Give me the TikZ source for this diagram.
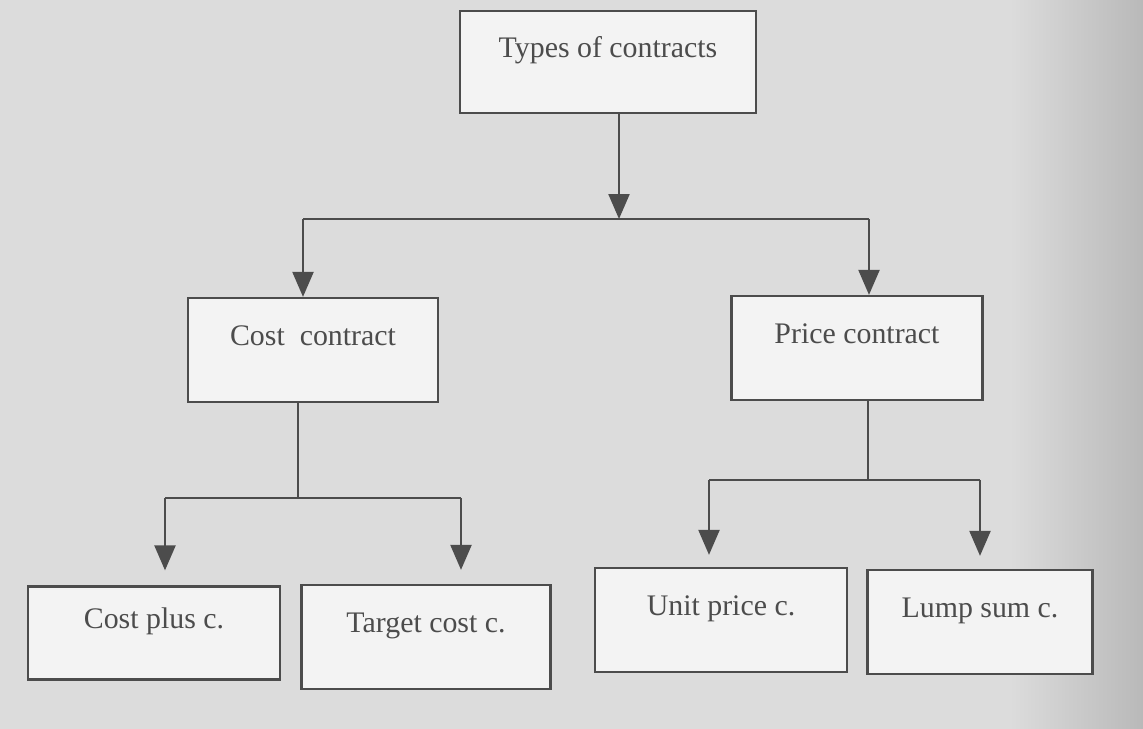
\documentclass[tikz,border=0pt]{standalone}
\usepackage{fontspec}
\setmainfont{Liberation Serif}
\usepackage{xcolor}
\usepackage{tikz}
\usetikzlibrary{arrows.meta, positioning}

\definecolor{scanbg}{HTML}{DCDCDC}
\definecolor{boxbg}{HTML}{F3F3F3}
\definecolor{ink}{HTML}{4C4C4C}

\begin{document}
\begin{tikzpicture}[x=0.02cm, y=-0.02cm, >={Triangle[width=0.42cm, length=0.5cm]},
        box/.style={draw=ink, line width=1.3pt, fill=boxbg, text=ink, minimum height=2.08cm,
            text height=12pt, text depth=17pt, font=\fontsize{17}{20}\selectfont},
        link/.style={draw=ink, line width=1.3pt}]
        % scanned page
        \useasboundingbox (0,0) rectangle (1143,729);
        \fill[scanbg] (0,0) rectangle (1143,729);
        \shade[left color=scanbg, right color=gray!55] (1010,0) rectangle (1143,729);

        \node[box, minimum width=5.92cm, minimum height=2.04cm] (types) at (608,62) {Types of contracts};
        \node[box, minimum width=5.0cm] (cost) at (313,350) {Cost~~contract};
        \node[box, minimum width=5.02cm] (price) at (857,348) {Price contract};
        \node[box, minimum width=5.04cm, minimum height=1.86cm] (costplus) at (154,633) {Cost plus c.};
        \node[box, minimum width=4.98cm] (target) at (426,637) {Target cost c.};
        \node[box, minimum width=5.04cm] (unit) at (721,620) {Unit price c.};
        \node[box, minimum width=4.5cm] (lump) at (980,622) {Lump sum c.};

        % bus lines
        \coordinate (b1m) at (619,219);
        \coordinate (b1l) at (303,219);
        \coordinate (b1r) at (869,219);
        \coordinate (b2m) at (298,498);
        \coordinate (b2l) at (165,498);
        \coordinate (b2r) at (461,498);
        \coordinate (b3m) at (868,480);
        \coordinate (b3l) at (709,480);
        \coordinate (b3r) at (980,480);

        \draw[link] (b1l) -- (b1r);
        \draw[link] (cost.south -| b2m) -- (b2m);
        \draw[link] (b2l) -- (b2r);
        \draw[link] (price.south -| b3m) -- (b3m);
        \draw[link] (b3l) -- (b3r);

        \path[->, color=ink, line width=1.3pt]
        (types.south -| b1m) edge (b1m)
        (b1l) edge (b1l |- cost.north)
        (b1r) edge (b1r |- price.north)
        (b2l) edge [shorten >=0.3cm] (b2l |- costplus.north)
        (b2r) edge [shorten >=0.28cm] (b2r |- target.north)
        (b3l) edge [shorten >=0.24cm] (b3l |- unit.north)
        (b3r) edge [shorten >=0.26cm] (b3r |- lump.north);

    \end{tikzpicture}
\end{document}
